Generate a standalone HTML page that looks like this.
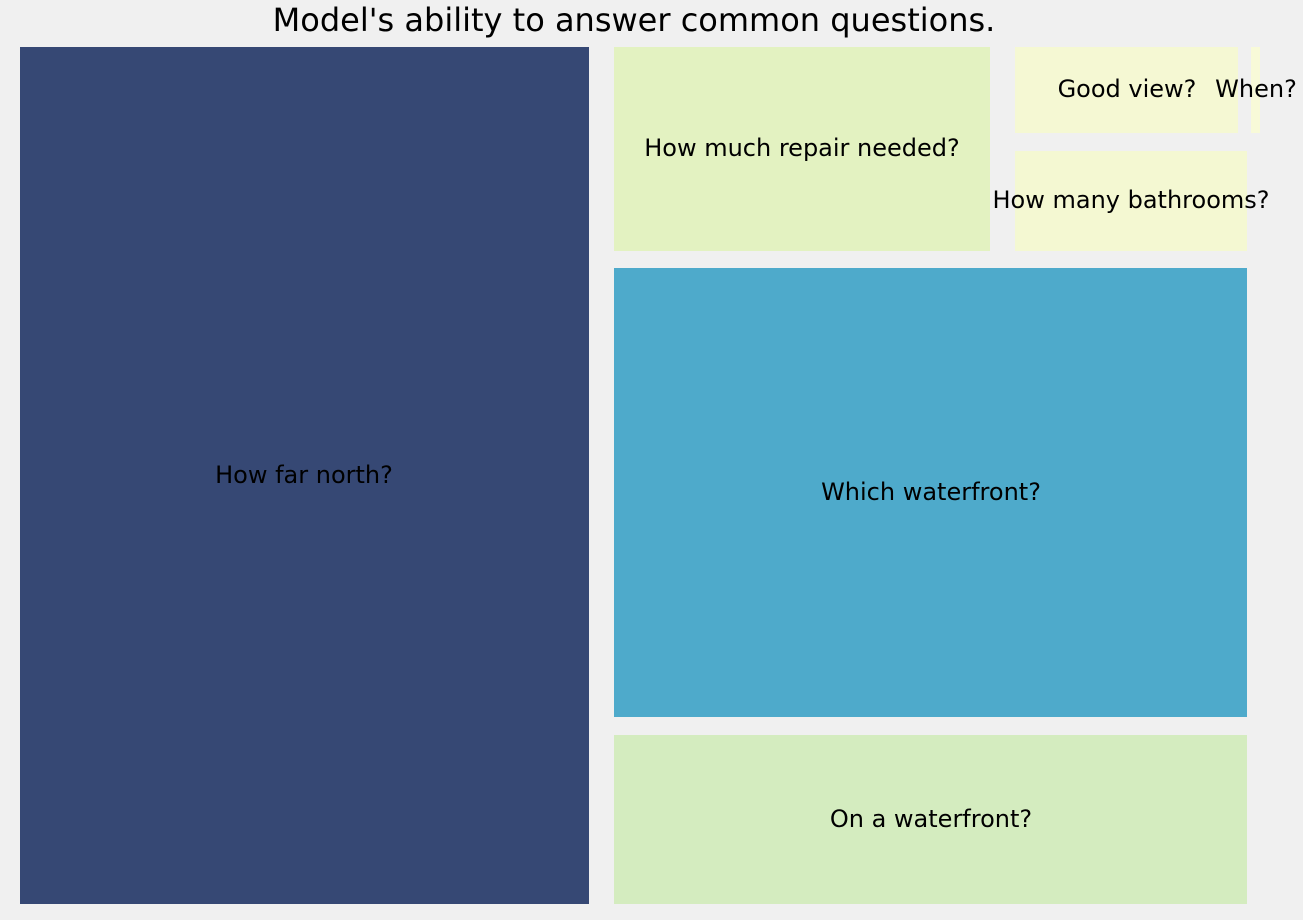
<!DOCTYPE html>
<html><head><style>
body{margin:0;width:1303px;height:920px;background:#f0f0f0;position:relative;overflow:hidden;font-family:"DejaVu Sans","Liberation Sans",sans-serif;}
.r{position:absolute}
.t{position:absolute;white-space:nowrap;transform:translate(-50%,-50%);font-size:24px;color:#000}
</style></head><body>
<div class="t" style="left:634px;top:20px;font-size:32px">Model's ability to answer common questions.</div>
<div class="r" style="left:20px;top:47px;width:569px;height:857px;background:#364874"></div>
<div class="r" style="left:614px;top:47px;width:376px;height:204px;background:#e3f2c1"></div>
<div class="r" style="left:1015px;top:47px;width:223px;height:86px;background:#f5f8d3"></div>
<div class="r" style="left:1251px;top:47px;width:9px;height:86px;background:#f8fad8"></div>
<div class="r" style="left:1015px;top:151px;width:232px;height:100px;background:#f4f8d2"></div>
<div class="r" style="left:614px;top:268px;width:633px;height:449px;background:#4eaacb"></div>
<div class="r" style="left:614px;top:735px;width:633px;height:169px;background:#d4ecbf"></div>
<div class="t" style="left:304px;top:475px">How far north?</div>
<div class="t" style="left:802px;top:148px">How much repair needed?</div>
<div class="t" style="left:1127px;top:89px">Good view?</div>
<div class="t" style="left:1256px;top:89px">When?</div>
<div class="t" style="left:1131px;top:200px">How many bathrooms?</div>
<div class="t" style="left:931px;top:492px">Which waterfront?</div>
<div class="t" style="left:931px;top:819px">On a waterfront?</div>
</body></html>
